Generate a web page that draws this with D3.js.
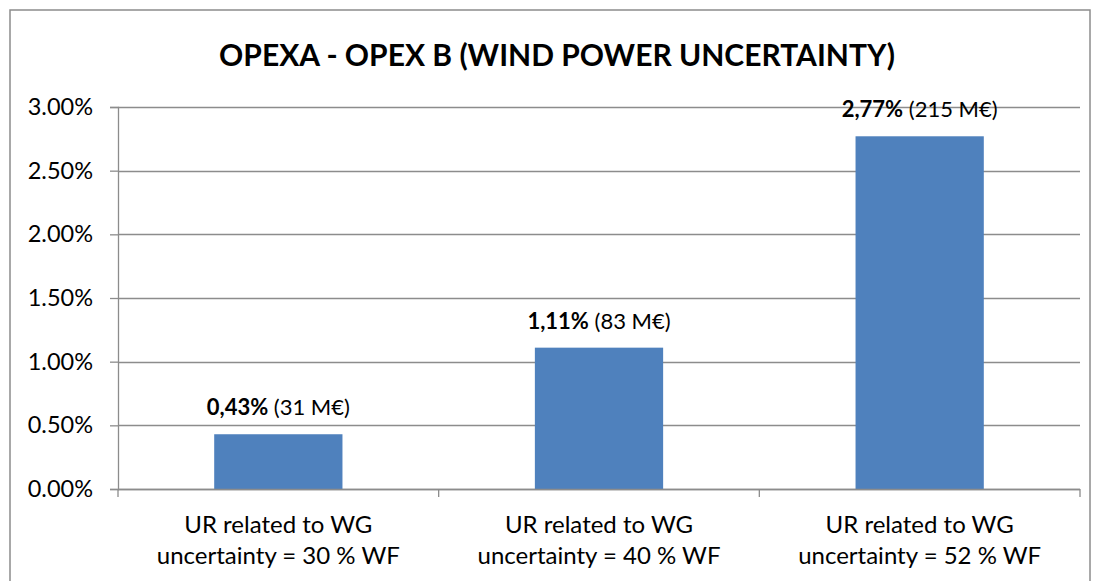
<!DOCTYPE html>
<html>
<head>
<meta charset="utf-8">
<script src="https://cdn.jsdelivr.net/npm/d3@7"></script>
<style>
body{margin:0;background:#fff;}
text{font-family:Lato,"Open Sans",sans-serif;fill:#000;}
</style>
</head>
<body>
<svg id="chart"></svg>
<script>
var categories = ["UR related to WG|uncertainty = 30 % WF",
                  "UR related to WG|uncertainty = 40 % WF",
                  "UR related to WG|uncertainty = 52 % WF"];
var values = [0.43, 1.11, 2.77];
var valueLabels = ["0,43%", "1,11%", "2,77%"];
var costLabels = [" (31 M€)", " (83 M€)", " (215 M€)"];
var yTicks = [0, 0.5, 1, 1.5, 2, 2.5, 3];

var screen = {width:1099, height:581};
var margins = {top:107, bottom:92, left:118, right:19};
var graph = {
    width:screen.width-margins.left-margins.right,
    height:screen.height-margins.top-margins.bottom
};

var svg = d3.select("#chart")
    .attr("width",screen.width)
    .attr("height",screen.height);

//chart border
svg.append("rect")
    .attr("x",10).attr("y",10)
    .attr("width",1080).attr("height",600)
    .attr("fill","none")
    .attr("stroke","#8c8c8c")
    .attr("stroke-width",1.5);

svg.append("text")
    .text("OPEXA - OPEX B (WIND POWER UNCERTAINTY)")
    .attr("x",557).attr("y",66)
    .attr("text-anchor","middle")
    .attr("font-size",30)
    .attr("font-weight","bold");

var g = svg.append("g")
    .attr("transform","translate("+margins.left+","+margins.top+")");

var xScale = d3.scaleBand()
    .domain(categories)
    .range([0,graph.width])
    .paddingInner(0.6)
    .paddingOuter(0.3);

var yScale = d3.scaleLinear()
    .domain([0,3])
    .range([graph.height,0]);

//gridlines
g.selectAll(".grid")
    .data(yTicks)
    .enter()
    .append("line")
    .attr("x1",0).attr("x2",graph.width)
    .attr("y1",function(d){return Math.round(yScale(d))+0.5;})
    .attr("y2",function(d){return Math.round(yScale(d))+0.5;})
    .attr("stroke","#8c8c8c")
    .attr("stroke-width",1.3);

//bars
g.selectAll(".bar")
    .data(values)
    .enter()
    .append("rect")
    .attr("x",function(d,i){return xScale(categories[i]);})
    .attr("width",xScale.bandwidth())
    .attr("y",function(d){return yScale(d);})
    .attr("height",function(d){return graph.height-yScale(d);})
    .attr("fill","#4f81bd");

//y axis
var yAxis = d3.axisLeft(yScale)
    .tickValues(yTicks)
    .tickSize(8)
    .tickPadding(17)
    .tickFormat(function(d){return d.toFixed(2)+"%";});
var ya = g.append("g").call(yAxis);
ya.select(".domain").attr("stroke","#8c8c8c").attr("stroke-width",1.3);
ya.selectAll(".tick line").attr("stroke","#8c8c8c").attr("stroke-width",1.3);
ya.selectAll("text").attr("font-size",23.5).attr("font-family","Lato,sans-serif").attr("fill","#000");

//x axis line and ticks between categories
var step = graph.width/categories.length;
var xa = g.append("g").attr("transform","translate(0,"+graph.height+")");
xa.append("line")
    .attr("x1",0).attr("x2",graph.width)
    .attr("y1",0.5).attr("y2",0.5)
    .attr("stroke","#8c8c8c").attr("stroke-width",1.3);
xa.selectAll(".xt")
    .data(d3.range(categories.length+1))
    .enter()
    .append("line")
    .attr("x1",function(i){return i*step;})
    .attr("x2",function(i){return i*step;})
    .attr("y1",0).attr("y2",8)
    .attr("stroke","#8c8c8c").attr("stroke-width",1.3);

var xl = xa.selectAll(".xl")
    .data(categories)
    .enter()
    .append("text")
    .attr("text-anchor","middle")
    .attr("font-size",24)
    .attr("transform",function(d){
        return "translate("+(xScale(d)+xScale.bandwidth()/2)+",0)";});
xl.append("tspan").attr("x",0).attr("y",44)
    .text(function(d){return d.split("|")[0];});
xl.append("tspan").attr("x",0).attr("y",75)
    .text(function(d){return d.split("|")[1];});

//data labels
var dl = g.selectAll(".dl")
    .data(values)
    .enter()
    .append("text")
    .attr("text-anchor","middle")
    .attr("font-size",22)
    .attr("x",function(d,i){return xScale(categories[i])+xScale.bandwidth()/2;})
    .attr("y",function(d){return yScale(d)-19;});
dl.append("tspan").attr("font-weight","bold")
    .text(function(d,i){return valueLabels[i];});
dl.append("tspan")
    .text(function(d,i){return costLabels[i];});
</script>
</body>
</html>
